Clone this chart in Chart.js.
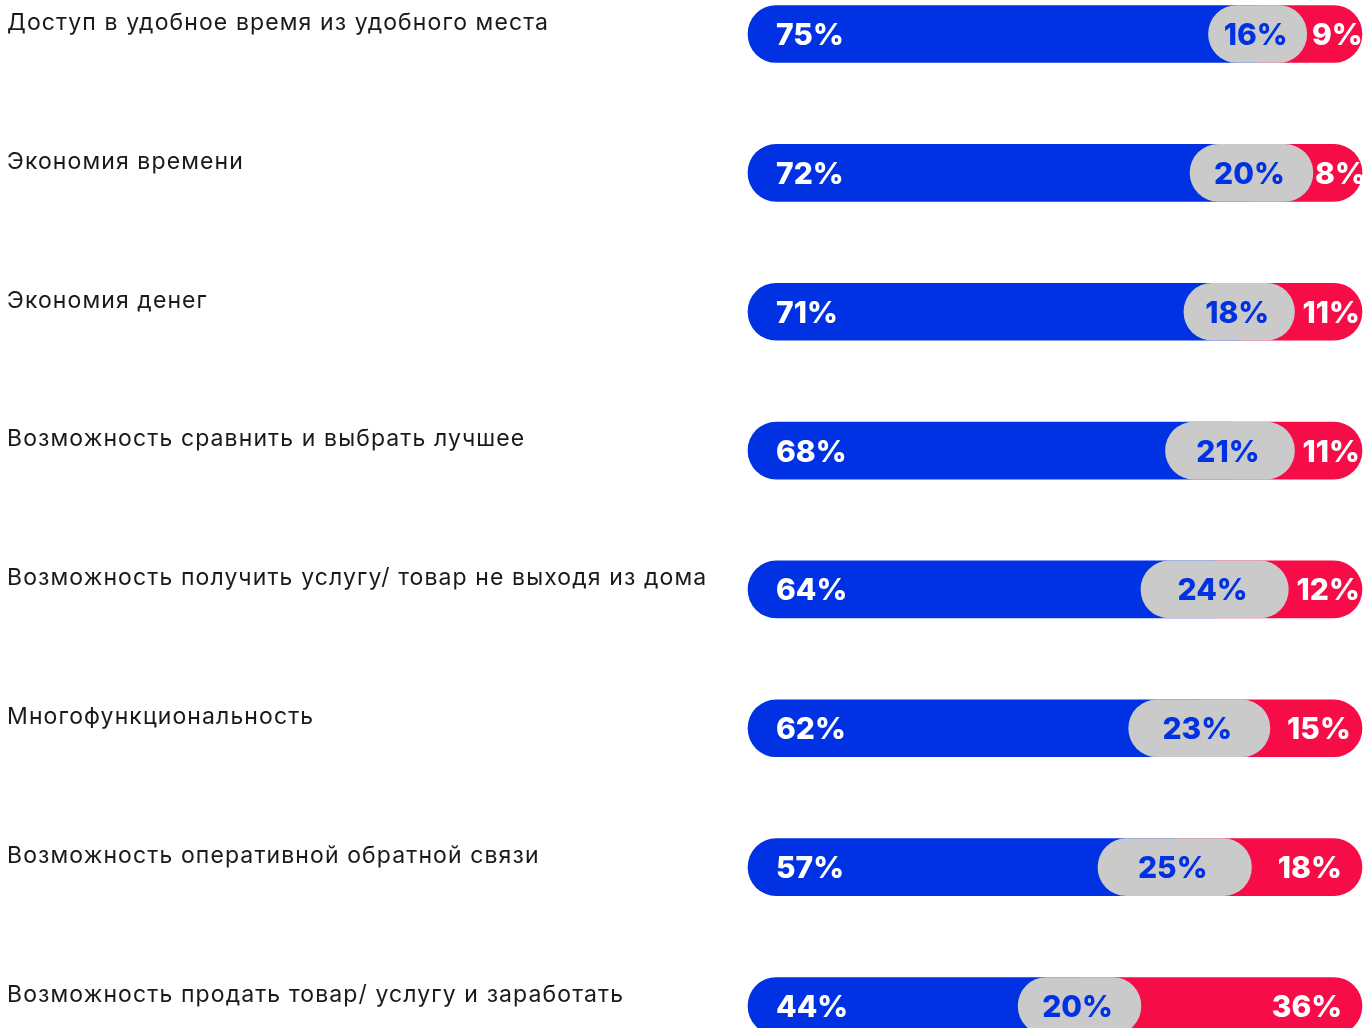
<!DOCTYPE html>
<html lang="ru">
<head>
<meta charset="utf-8">
<title>Преимущества онлайн-сервисов</title>
<script src="https://cdn.jsdelivr.net/npm/chart.js@4.4.1/dist/chart.umd.min.js"></script>
<style>
  html, body { margin: 0; padding: 0; background: #ffffff; overflow: hidden; }
  #wrap { width: 1363px; height: 1028px; }
</style>
</head>
<body>
<div id="wrap"><canvas id="chart" width="1363" height="1028"></canvas></div>
<script>
// Categories and shares (percent) for each answer
const categories = [
  'Доступ в удобное время из удобного места',
  'Экономия времени',
  'Экономия денег',
  'Возможность сравнить и выбрать лучшее',
  'Возможность получить услугу/ товар не выходя из дома',
  'Многофункциональность',
  'Возможность оперативной обратной связи',
  'Возможность продать товар/ услугу и заработать'
];
const blueValues = [75, 72, 71, 68, 64, 62, 57, 44];
const grayValues = [16, 20, 18, 21, 24, 23, 25, 20];
const redValues  = [9, 8, 11, 11, 12, 15, 18, 36];

const BLUE = '#0032e3';
const GRAY = '#cacaca';
const RED  = '#f60c47';
const R = 28.5;

// Layered floating bars: the gray pill sits on top and covers the joins
const grayRanges = grayValues.map((g, i) => [blueValues[i], blueValues[i] + g]);
const blueRanges = blueValues.map((b, i) => [0, b + grayValues[i] / 2]);
const redRanges  = redValues.map((r, i) => [blueValues[i] + grayValues[i] / 2, blueValues[i] + grayValues[i] + r]);

// Wider tracking for the category labels on the axis
const labelTracking = {
  id: 'labelTracking',
  beforeDraw(chart) { chart.ctx.letterSpacing = '1.1px'; },
  beforeDatasetsDraw(chart) { chart.ctx.letterSpacing = '0px'; }
};

const valueLabels = {
  id: 'valueLabels',
  afterDatasetsDraw(chart) {
    const { ctx, scales: { x, y } } = chart;
    ctx.save();
    ctx.letterSpacing = '0px';
    ctx.font = '800 30px Inter, "Open Sans", sans-serif';
    ctx.textBaseline = 'alphabetic';
    categories.forEach((c, i) => {
      const cy = y.getPixelForValue(i) + 11;
      const b = blueValues[i], g = grayValues[i], r = redValues[i];
      // blue share, left aligned
      ctx.fillStyle = '#ffffff';
      ctx.textAlign = 'left';
      ctx.fillText(b + '%', x.getPixelForValue(0) + 28, cy);
      // gray share, centered in its pill
      ctx.fillStyle = BLUE;
      ctx.textAlign = 'center';
      ctx.fillText(g + '%', x.getPixelForValue(b + g / 2) - 2, cy);
      // red share, centered but kept near the bar end
      ctx.fillStyle = '#ffffff';
      const end = x.getPixelForValue(b + g + r);
      const mid = x.getPixelForValue(b + g + r / 2);
      ctx.fillText(r + '%', Math.max(mid + 3, end - 55), cy);
    });
    ctx.restore();
  }
};

new Chart(document.getElementById('chart'), {
  type: 'bar',
  data: {
    labels: categories,
    datasets: [
      { label: 'gray', data: grayRanges, backgroundColor: GRAY, borderRadius: R, borderSkipped: false, order: 0 },
      { label: 'blue', data: blueRanges, backgroundColor: BLUE, borderRadius: { topLeft: R, bottomLeft: R, topRight: 0, bottomRight: 0 }, borderSkipped: false, order: 1 },
      { label: 'red',  data: redRanges,  backgroundColor: RED,  borderRadius: { topLeft: 0, bottomLeft: 0, topRight: R, bottomRight: R }, borderSkipped: false, order: 2 }
    ]
  },
  options: {
    indexAxis: 'y',
    responsive: false,
    maintainAspectRatio: false,
    animation: false,
    layout: { padding: { left: 7, right: 1, top: 34, bottom: 22 } },
    datasets: { bar: { grouped: false, barThickness: 57, clip: false } },
    plugins: { legend: { display: false }, tooltip: { enabled: false } },
    scales: {
      x: { display: false, min: 0, max: 100 },
      y: {
        offset: false,
        grid: { display: false },
        border: { display: false },
        afterFit(scale) { scale.width = 741; },
        ticks: {
          crossAlign: 'far',
          labelOffset: -11,
          padding: 0,
          color: '#1a1a1a',
          font: { family: 'Inter, "Open Sans", sans-serif', size: 23, weight: '400' }
        }
      }
    }
  },
  plugins: [labelTracking, valueLabels]
});
</script>
</body>
</html>
